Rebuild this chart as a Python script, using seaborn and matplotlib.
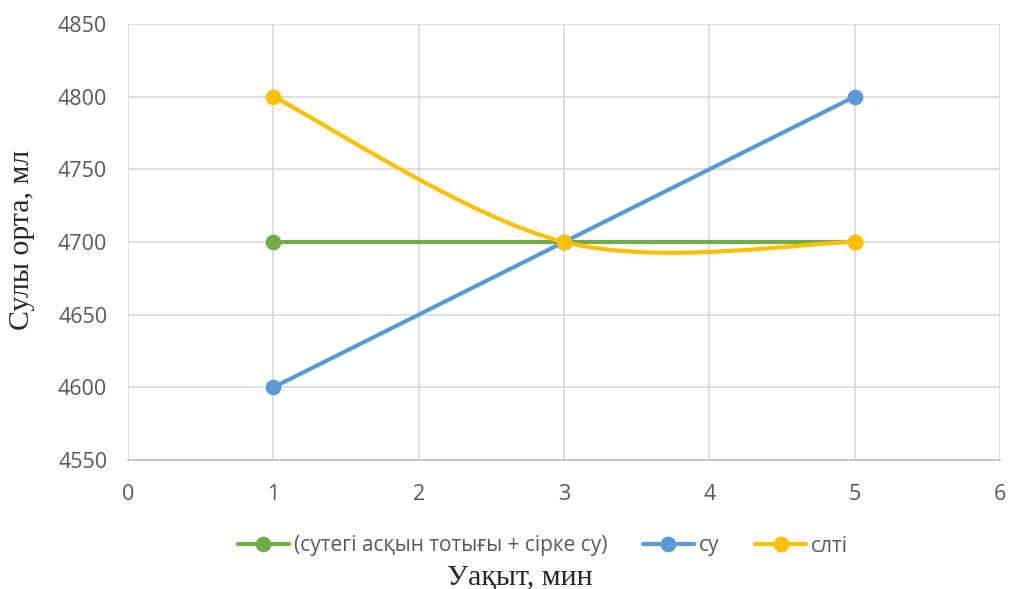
import numpy as np
import pandas as pd
import matplotlib
matplotlib.use('Agg')
import matplotlib.pyplot as plt
import seaborn as sns
from matplotlib.path import Path
from matplotlib.patches import PathPatch
from matplotlib.lines import Line2D

# data
time_min = [1, 3, 5]
peroxide_vinegar = [4700, 4700, 4700]
water = [4600, 4700, 4800]
alkali = [4800, 4700, 4700]

series_names = ['(сутегі асқын тотығы + сірке су)', 'су', 'слті']
colors = ['#70AD47', '#5B9BD5', '#FFC000']

sns.set_style('white')
plt.rcParams['font.family'] = ['Open Sans', 'DejaVu Sans']

fig = plt.figure(figsize=(10.09, 5.89), dpi=100)
ax = fig.add_axes([128 / 1009, 1 - 460 / 589, 872 / 1009, 436 / 589])

df = pd.DataFrame({'t': time_min, 'g': peroxide_vinegar, 'b': water})
sns.lineplot(data=df, x='t', y='g', ax=ax, color=colors[0], lw=3,
             marker='o', markersize=11.3, markeredgewidth=0, zorder=3)
sns.lineplot(data=df, x='t', y='b', ax=ax, color=colors[1], lw=3,
             marker='o', markersize=11.3, markeredgewidth=0, zorder=4)


# Excel-style smoothed line (bezier through the points)
def smooth_path(xs, ys):
    pts = np.column_stack([xs, ys]).astype(float)
    n = len(pts)
    verts = [pts[0]]
    codes = [Path.MOVETO]
    for i in range(n - 1):
        p_prev = pts[max(i - 1, 0)]
        p0 = pts[i]
        p1 = pts[i + 1]
        p_next = pts[min(i + 2, n - 1)]
        c1 = p0 + (p1 - p_prev) / 6
        c2 = p1 - (p_next - p0) / 6
        verts += [c1, c2, p1]
        codes += [Path.CURVE4] * 3
    return Path(verts, codes)


ax.add_patch(PathPatch(smooth_path(time_min, alkali), facecolor='none',
                       edgecolor=colors[2], lw=3, zorder=5, capstyle='round'))
sns.scatterplot(x=time_min, y=alkali, ax=ax, color=colors[2], s=11.3 ** 2,
                linewidth=0, zorder=6)

ax.set_xlim(0, 6)
ax.set_ylim(4550, 4850)
ax.set_xticks(range(0, 7))
ax.set_yticks(range(4550, 4851, 50))
ax.grid(True, color='#D9D9D9', lw=1.2)
ax.set_axisbelow(True)
for s in ['top', 'right', 'left']:
    ax.spines[s].set_visible(False)
ax.spines['bottom'].set_color('#BFBFBF')
ax.spines['bottom'].set_linewidth(1.2)
ax.tick_params(axis='both', length=0, labelsize=15.5, colors='#595959')
ax.tick_params(axis='y', pad=15)
ax.tick_params(axis='x', pad=17)
ax.set_xlabel('')
ax.set_ylabel('')

handles = [Line2D([], [], color=c, lw=3, marker='o', markersize=11.3,
                  markeredgewidth=0) for c in colors]
fig.legend(handles, series_names, loc='center', bbox_to_anchor=(543 / 1009, 1 - 546 / 589),
           ncol=3, frameon=False, fontsize=15, labelcolor='#595959',
           handlelength=2.45, handletextpad=0.25, columnspacing=1.7)

fig.text(520 / 1009, 1 - 577 / 589, 'Уақыт, мин', family='Liberation Serif',
         fontsize=21.5, ha='center', va='center')
fig.text(22 / 1009, 1 - 240 / 589, 'Сулы орта, мл', family='Liberation Serif',
         fontsize=21.5, ha='center', va='center', rotation=90)

fig.savefig('out.png', dpi=100)
